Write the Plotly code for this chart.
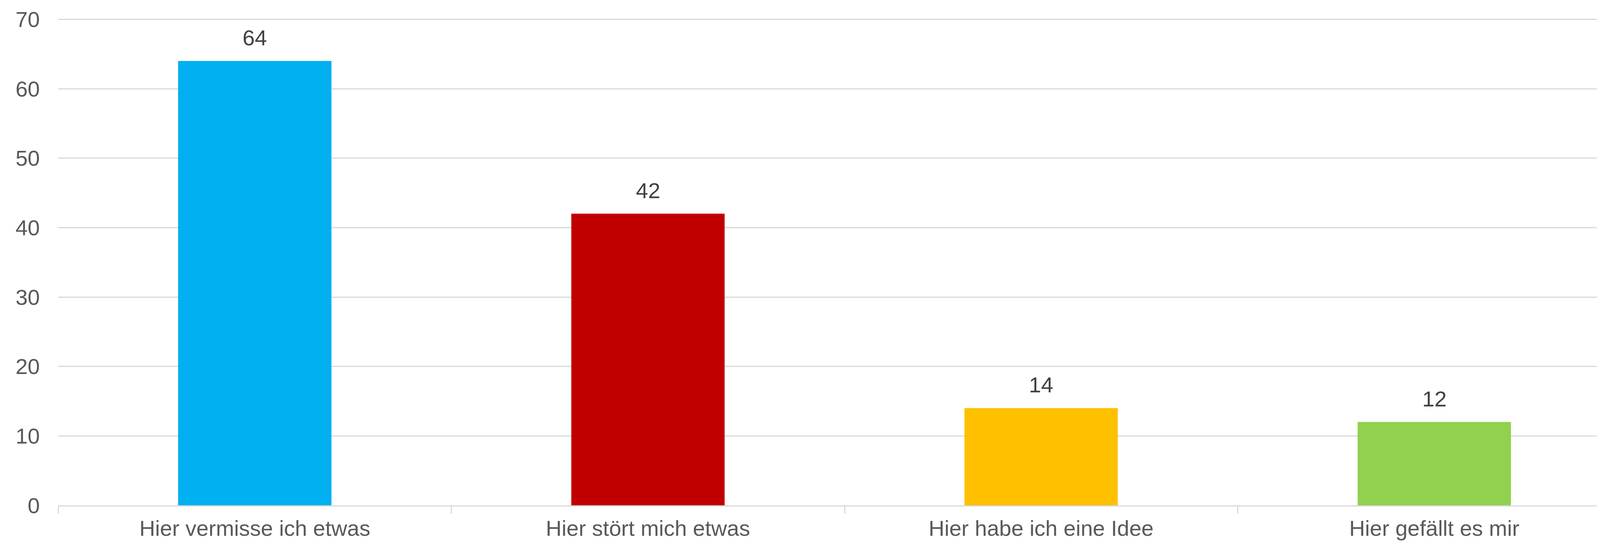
import plotly.graph_objects as go

categories = ["Hier vermisse ich etwas", "Hier stört mich etwas", "Hier habe ich eine Idee", "Hier gefällt es mir"]
values = [64, 42, 14, 12]
colors = ["#00B0F0", "#C00000", "#FFC000", "#92D050"]
y_ticks = [0, 10, 20, 30, 40, 50, 60, 70]

fig = go.Figure()
fig.add_trace(go.Bar(
    x=categories, y=values,
    marker=dict(color=colors, line=dict(width=0)),
    cliponaxis=False,
    hoverinfo="x+y",
))

for c, v in zip(categories, values):
    fig.add_annotation(
        x=c, y=v, text=str(v), showarrow=False,
        yanchor="bottom", yshift=26,
        font=dict(size=56, color="#404040", family="Liberation Sans, Arial"),
    )

# page body has a default 8px margin, so the figure is reduced by 8px
fig.update_layout(
    width=4167, height=1384,
    margin=dict(l=141, r=0, t=40, b=99, autoexpand=False),
    paper_bgcolor="white", plot_bgcolor="white",
    bargap=0.61,
    showlegend=False,
    font=dict(family="Liberation Sans, Arial", size=56, color="#595959"),
)
fig.update_yaxes(
    range=[0, 70.08], tickvals=y_ticks, ticktext=[str(t) for t in y_ticks],
    showgrid=True, gridcolor="#D9D9D9", gridwidth=3,
    zeroline=False, showline=False, ticks="",
    ticklabelstandoff=46, automargin=False,
    tickfont=dict(size=56, color="#595959"),
)
fig.update_xaxes(
    showline=True, linecolor="#D9D9D9", linewidth=3,
    ticks="outside", tickson="boundaries", ticklen=18, tickcolor="#D9D9D9", tickwidth=3,
    showgrid=False, automargin=False,
    ticklabelstandoff=8,
    tickfont=dict(size=56, color="#595959"),
)

fig.write_html("out.html")
